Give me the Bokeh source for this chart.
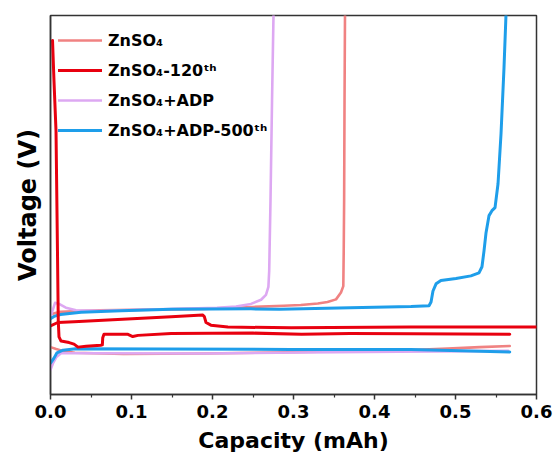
from bokeh.plotting import figure
from bokeh.models import (Legend, LegendItem, Range1d, FixedTicker, PrintfTickFormatter)
from bokeh.embed import file_html
from bokeh.resources import INLINE

# Zn plating (lower branch) and stripping (upper branch) curves, capacity in mAh, voltage in V

# ZnSO4
znso4_plate_cap = [0.0, 0.007, 0.015, 0.03, 0.09, 0.19, 0.31, 0.43, 0.49, 0.53, 0.567]
znso4_plate_v = [-0.075, -0.080, -0.085, -0.090, -0.093, -0.092, -0.088, -0.084, -0.079, -0.075, -0.072]
znso4_strip_cap = [0.0, 0.012, 0.06, 0.19, 0.25, 0.288, 0.309, 0.330, 0.342, 0.3525, 0.3586,
                   0.3615, 0.362, 0.3625, 0.363, 0.3637]
znso4_strip_v = [0.012, 0.018, 0.022, 0.026, 0.031, 0.034, 0.036, 0.040, 0.044, 0.051, 0.069,
                 0.086, 0.18, 0.31, 0.575, 0.85]

# ZnSO4, 120th cycle
c120_plate_cap = [0.0025, 0.0043, 0.0068, 0.0086, 0.0096, 0.0105, 0.013, 0.023, 0.029, 0.034,
                  0.044, 0.062, 0.064, 0.0645, 0.066, 0.095, 0.1015, 0.108, 0.149, 0.25, 0.31,
                  0.37, 0.445, 0.567]
c120_plate_v = [0.734, 0.628, 0.496, 0.179, -0.006, -0.048, -0.059, -0.063, -0.067, -0.075,
                -0.073, -0.070, -0.069, -0.050, -0.041, -0.041, -0.047, -0.044, -0.039, -0.038,
                -0.041, -0.039, -0.040, -0.041]
c120_strip_cap = [0.0, 0.009, 0.029, 0.149, 0.188, 0.190, 0.192, 0.198, 0.219, 0.297, 0.445, 0.62]
c120_strip_v = [-0.019, -0.010, -0.008, 0.005, 0.010, 0.005, -0.010, -0.017, -0.022, -0.024,
                -0.022, -0.022]

# ZnSO4 + ADP
adp_plate_cap = [0.0, 0.003, 0.007, 0.013, 0.04, 0.19, 0.31, 0.43, 0.565]
adp_plate_v = [-0.135, -0.118, -0.102, -0.091, -0.091, -0.092, -0.089, -0.087, -0.085]
adp_strip_cap = [0.0, 0.0056, 0.0105, 0.019, 0.0315, 0.062, 0.2056, 0.229, 0.2475, 0.260, 0.266,
                 0.269, 0.270, 0.2716, 0.2735, 0.2753, 0.2756]
adp_strip_v = [0.005, 0.042, 0.039, 0.029, 0.022, 0.021, 0.029, 0.032, 0.039, 0.050, 0.063,
               0.084, 0.126, 0.311, 0.575, 0.80, 0.85]

# ZnSO4 + ADP, 500th cycle
a500_plate_cap = [0.0, 0.0043, 0.008, 0.0154, 0.031, 0.136, 0.297, 0.445, 0.494, 0.567]
a500_plate_v = [-0.117, -0.104, -0.090, -0.083, -0.079, -0.080, -0.081, -0.081, -0.084, -0.088]
a500_strip_cap = [0.0, 0.0043, 0.0123, 0.0377, 0.087, 0.149, 0.2475, 0.2827, 0.370, 0.445,
                  0.4673, 0.4698, 0.4722, 0.476, 0.482, 0.5006, 0.519, 0.529, 0.5327, 0.5352,
                  0.5377, 0.5414, 0.545, 0.5488, 0.5525, 0.5562, 0.5599, 0.5623, 0.5635]
a500_strip_v = [0.000, 0.006, 0.011, 0.017, 0.021, 0.025, 0.026, 0.025, 0.029, 0.032,
                0.034, 0.044, 0.073, 0.092, 0.101, 0.106, 0.113, 0.121, 0.137, 0.179,
                0.227, 0.272, 0.285, 0.293, 0.356, 0.488, 0.663, 0.80, 0.85]

series_labels = ["ZnSO\u2084", "ZnSO\u2084-120\u1d57\u02b0", "ZnSO\u2084+ADP",
                 "ZnSO\u2084+ADP-500\u1d57\u02b0"]
series_colors = ["#F08282", "#E8000F", "#DDA8F2", "#1E9EEA"]
series_widths = [2.6, 3, 2.6, 3]

x_major_ticks = [0.0, 0.1, 0.2, 0.3, 0.4, 0.5, 0.6]
x_minor_ticks = [0.05, 0.15, 0.25, 0.35, 0.45, 0.55]
FONT = "DejaVu Sans"

p = figure(width=557, height=461, output_backend="svg", toolbar_location=None,
           x_range=Range1d(0, 0.6), y_range=Range1d(-0.2, 0.8),
           min_border_left=50, min_border_right=21, min_border_top=15, min_border_bottom=67)
p.background_fill_color = "white"
p.border_fill_color = "white"
p.grid.visible = False
p.outline_line_color = "#333333"
p.outline_line_width = 1.5

branches = [
    (znso4_plate_cap, znso4_plate_v, znso4_strip_cap, znso4_strip_v),
    (c120_plate_cap, c120_plate_v, c120_strip_cap, c120_strip_v),
    (adp_plate_cap, adp_plate_v, adp_strip_cap, adp_strip_v),
    (a500_plate_cap, a500_plate_v, a500_strip_cap, a500_strip_v),
]

# draw order: ZnSO4, ZnSO4+ADP, ZnSO4+ADP-500th, then the 120th-cycle curve on top
draw_order = [0, 2, 3, 1]
first_renderer = {}
for i in draw_order:
    pc, pv, sc, sv = branches[i]
    r1 = p.line(pc, pv, line_color=series_colors[i], line_width=series_widths[i],
                line_join="round", line_cap="round")
    p.line(sc, sv, line_color=series_colors[i], line_width=series_widths[i],
           line_join="round", line_cap="round")
    first_renderer[i] = r1

legend = Legend(items=[LegendItem(label=series_labels[i], renderers=[first_renderer[i]])
                       for i in range(4)],
                location=(8, 254), orientation="vertical",
                glyph_width=44, glyph_height=20, label_height=20, spacing=10,
                padding=0, margin=0, label_standoff=6,
                label_text_font=FONT, label_text_font_style="bold",
                label_text_font_size="16px", label_text_color="black",
                background_fill_alpha=0, border_line_alpha=0)
p.add_layout(legend)

# x axis
xa = p.xaxis[0]
xa.ticker = FixedTicker(ticks=x_major_ticks, minor_ticks=x_minor_ticks)
xa.formatter = PrintfTickFormatter(format="%.1f")
xa.axis_label = "Capacity (mAh)"
xa.axis_line_color = "#333333"
xa.axis_line_width = 1.5
xa.major_tick_line_color = "#333333"
xa.major_tick_line_width = 1.5
xa.minor_tick_line_color = "#333333"
xa.minor_tick_line_width = 1.2
xa.major_tick_in = 0
xa.major_tick_out = 5
xa.minor_tick_in = 0
xa.minor_tick_out = 3
xa.major_label_text_font = FONT
xa.major_label_text_font_style = "bold"
xa.major_label_text_font_size = "18px"
xa.major_label_text_color = "black"
xa.major_label_standoff = 5
xa.axis_label_text_font = FONT
xa.axis_label_text_font_style = "bold"
xa.axis_label_text_font_size = "22px"
xa.axis_label_text_color = "black"
xa.axis_label_standoff = 7

# y axis: no tick labels
ya = p.yaxis[0]
ya.ticker = FixedTicker(ticks=[])
ya.axis_label = "Voltage (V)"
ya.axis_line_color = "#333333"
ya.axis_line_width = 1.5
ya.major_tick_line_color = None
ya.minor_tick_line_color = None
ya.axis_label_text_font = FONT
ya.axis_label_text_font_style = "bold"
ya.axis_label_text_font_size = "24px"
ya.axis_label_text_color = "black"
ya.axis_label_standoff = 9

open("out.html", "w").write(file_html(p, INLINE))
